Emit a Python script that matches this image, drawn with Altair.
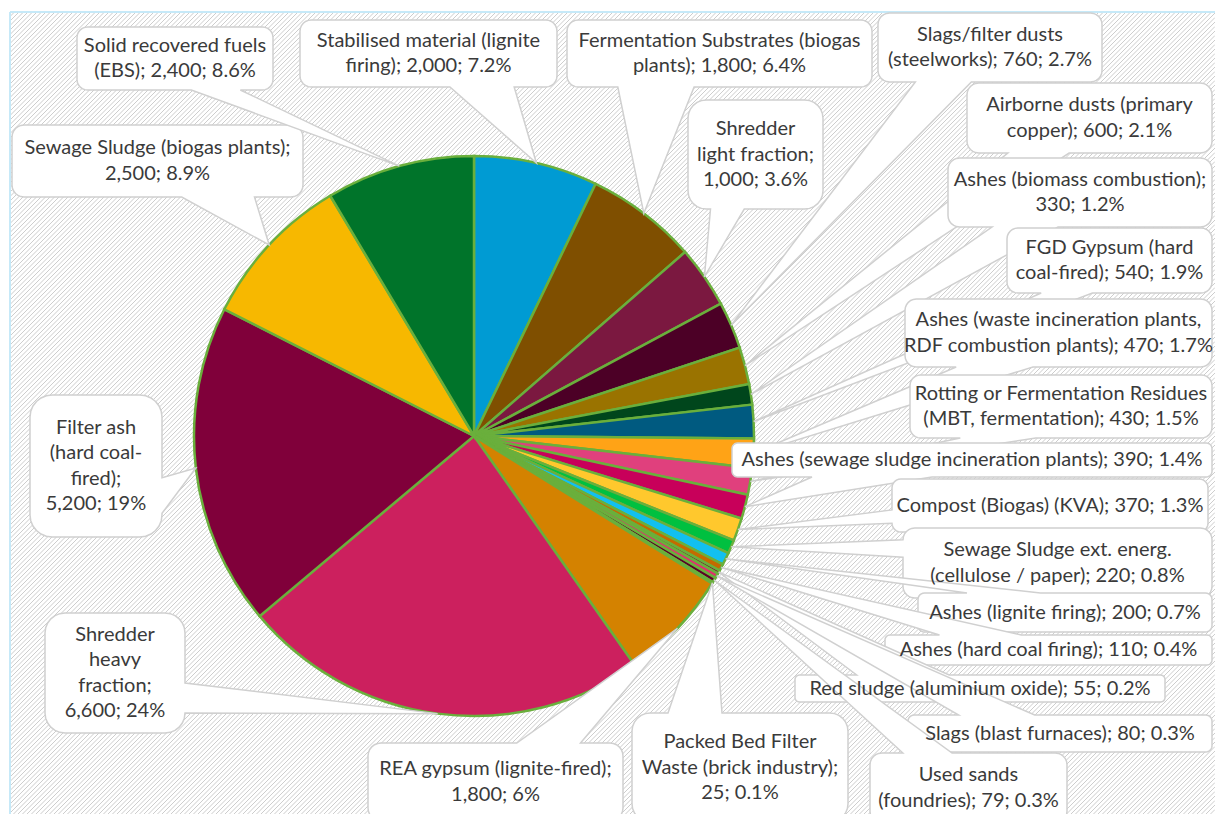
import math
import altair as alt
import pandas as pd

# ---------------- data ----------------
categories = [
    "Stabilised material (lignite firing)",
    "Fermentation Substrates (biogas plants)",
    "Shredder light fraction",
    "Slags/filter dusts (steelworks)",
    "Airborne dusts (primary copper)",
    "Ashes (biomass combustion)",
    "FGD Gypsum (hard coal-fired)",
    "Ashes (waste incineration plants, RDF combustion plants)",
    "Rotting or Fermentation Residues (MBT, fermentation)",
    "Ashes (sewage sludge incineration plants)",
    "Compost (Biogas) (KVA)",
    "Sewage Sludge ext. energ. (cellulose / paper)",
    "Ashes (lignite firing)",
    "Ashes (hard coal firing)",
    "Red sludge (aluminium oxide)",
    "Slags (blast furnaces)",
    "Used sands (foundries)",
    "Packed Bed Filter Waste (brick industry)",
    "REA gypsum (lignite-fired)",
    "Shredder heavy fraction",
    "Filter ash (hard coal-fired)",
    "Sewage Sludge (biogas plants)",
    "Solid recovered fuels (EBS)",
]
values = [2000, 1800, 1000, 760, 600, 330, 540, 470, 430, 390, 370, 220, 200,
          110, 55, 80, 79, 25, 1800, 6600, 5200, 2500, 2400]
shares = ["7.2%", "6.4%", "3.6%", "2.7%", "2.1%", "1.2%", "1.9%", "1.7%", "1.5%",
          "1.4%", "1.3%", "0.8%", "0.7%", "0.4%", "0.2%", "0.3%", "0.3%", "0.1%",
          "6%", "24%", "19%", "8.9%", "8.6%"]
colors = ["#009BD3", "#7F4F00", "#7B1840", "#4C0026", "#9A7300", "#00461C",
          "#005A80", "#FFA316", "#E0407D", "#C8005A", "#FFC82D", "#00C040",
          "#12C0F0", "#C46A00", "#7A0036", "#E03070", "#5A0028", "#A05000",
          "#D48200", "#CC205E", "#80003A", "#F7B800", "#00742A"]
label_text = [
    "Stabilised material (lignite\nfiring); 2,000; 7.2%",
    "Fermentation Substrates (biogas\nplants); 1,800; 6.4%",
    "Shredder\nlight fraction;\n1,000; 3.6%",
    "Slags/filter dusts\n(steelworks); 760; 2.7%",
    "Airborne dusts (primary\ncopper); 600; 2.1%",
    "Ashes (biomass combustion);\n330; 1.2%",
    "FGD Gypsum (hard\ncoal-fired); 540; 1.9%",
    "Ashes (waste incineration plants,\nRDF combustion plants); 470; 1.7%",
    "Rotting or Fermentation Residues\n(MBT, fermentation); 430; 1.5%",
    "Ashes (sewage sludge incineration plants); 390; 1.4%",
    "Compost (Biogas) (KVA); 370; 1.3%",
    "Sewage Sludge ext. energ.\n(cellulose / paper); 220; 0.8%",
    "Ashes (lignite firing); 200; 0.7%",
    "Ashes (hard coal firing); 110; 0.4%",
    "Red sludge (aluminium oxide); 55; 0.2%",
    "Slags (blast furnaces); 80; 0.3%",
    "Used sands\n(foundries); 79; 0.3%",
    "Packed Bed Filter\nWaste (brick industry);\n25; 0.1%",
    "REA gypsum (lignite-fired);\n1,800; 6%",
    "Shredder\nheavy\nfraction;\n6,600; 24%",
    "Filter ash\n(hard coal-\nfired);\n5,200; 19%",
    "Sewage Sludge (biogas plants);\n2,500; 8.9%",
    "Solid recovered fuels\n(EBS); 2,400; 8.6%",
]

# ---------------- layout ----------------
W, H = 1215, 814
CX, CY, R = 474, 436, 280
LINE_H = 25.5
# label boxes: left, top, right, bottom (pixels)
label_boxes = [
    (300, 20, 557, 87), (567, 20, 872, 87), (688, 100, 823, 209),
    (878, 13, 1102, 82), (967, 83, 1212, 153), (948, 158, 1212, 227),
    (1007, 228, 1212, 293), (905, 299, 1212, 367), (910, 375, 1212, 438),
    (732, 443, 1212, 477), (892, 479, 1208, 532), (903, 528, 1212, 598),
    (918, 593, 1212, 632), (885, 635, 1212, 665), (795, 675, 1165, 702),
    (908, 715, 1212, 752), (870, 753, 1067, 823), (632, 713, 848, 822),
    (368, 743, 623, 821), (45, 613, 185, 733), (30, 395, 162, 537),
    (12, 125, 303, 197), (77, 27, 273, 90),
]

total = float(sum(values))
tips = []
cum = 0.0
for v in values:
    mid = (cum + v / 2.0) / total * 2 * math.pi
    tips.append((CX + R * math.sin(mid), CY - R * math.cos(mid)))
    cum += v


def callout(l, t, r, b, tx, ty):
    w, h = r - l, b - t
    hc, vc = (l + r) / 2, (t + b) / 2
    dxp, dyp = tx - hc, ty - vc
    horiz = abs(dxp * h / w) > abs(dyp)
    rad = min(w, h) * 0.16667
    x1 = l + w * (7 if dxp > 0 else 2) / 12
    x2 = l + w * (10 if dxp > 0 else 5) / 12
    y1 = t + h * (7 if dyp > 0 else 2) / 12
    y2 = t + h * (10 if dyp > 0 else 5) / 12

    def arc(ax, ay, a0, a1):
        out = []
        for k in range(1, 7):
            a = math.radians(a0 + (a1 - a0) * k / 6)
            out.append((ax + rad * math.cos(a), ay + rad * math.sin(a)))
        return out

    pts = [(l + rad, t)]
    if not horiz and dyp < 0:
        pts += [(x1, t), (tx, ty), (x2, t)]
    pts.append((r - rad, t))
    pts += arc(r - rad, t + rad, -90, 0)
    if horiz and dxp > 0:
        pts += [(r, y1), (tx, ty), (r, y2)]
    pts.append((r, b - rad))
    pts += arc(r - rad, b - rad, 0, 90)
    if not horiz and dyp > 0:
        pts += [(x2, b), (tx, ty), (x1, b)]
    pts.append((l + rad, b))
    pts += arc(l + rad, b - rad, 90, 180)
    if horiz and dxp < 0:
        pts += [(l, y2), (tx, ty), (l, y1)]
    pts.append((l, t + rad))
    pts += arc(l + rad, t + rad, 180, 270)[:-1]
    ring = [[round(p[0], 2), round(p[1], 2)] for p in pts]
    ring.append(ring[0])
    return ring


features = []
for i, (box, tip) in enumerate(zip(label_boxes, tips)):
    features.append({
        "type": "Feature",
        "properties": {"idx": i},
        "geometry": {"type": "Polygon", "coordinates": [callout(*box, *tip)]},
    })

# hatch background (decoration)
hx0, hy0 = 10, 12
step = 4.5
hatch = []
c = hx0 + hy0 + step
while c < W + H:
    xa = max(hx0, c - H)
    xb = min(W, c - hy0)
    if xb > xa:
        hatch.append({"x": xa, "y": c - xa, "x2": xb, "y2": c - xb})
    c += step
hatch_df = pd.DataFrame(hatch)

border_df = pd.DataFrame([
    {"x": hx0, "y": hy0, "x2": hx0, "y2": H},
    {"x": hx0, "y": hy0, "x2": W, "y2": hy0},
])

pie_df = pd.DataFrame({"category": categories, "value": values,
                       "idx": list(range(len(values)))})
# first-line position so that the text block is centred in its box
text_df = pd.DataFrame({
    "tx": [(b[0] + b[2]) / 2 for b in label_boxes],
    "ty": [(b[1] + b[3]) / 2 - (s.count("\n")) * LINE_H / 2
           for b, s in zip(label_boxes, label_text)],
    "label": label_text,
})

xs = alt.Scale(domain=[0, W], nice=False, zero=False)
ys = alt.Scale(domain=[0, H], nice=False, zero=False, reverse=True)

hatch_layer = alt.Chart(hatch_df).mark_rule(color="#CDCDCD", strokeWidth=1).encode(
    x=alt.X("x:Q", scale=xs, axis=None), y=alt.Y("y:Q", scale=ys, axis=None),
    x2="x2:Q", y2="y2:Q")

border_layer = alt.Chart(border_df).mark_rule(color="#C6E9F8", strokeWidth=2).encode(
    x=alt.X("x:Q", scale=xs, axis=None), y=alt.Y("y:Q", scale=ys, axis=None),
    x2="x2:Q", y2="y2:Q")

pie_layer = alt.Chart(pie_df).mark_arc(
    outerRadius=R, stroke="#6AAF3C", strokeWidth=2.5
).encode(
    theta=alt.Theta("value:Q", stack=True),
    order=alt.Order("idx:Q"),
    color=alt.Color("category:N", scale=alt.Scale(domain=categories, range=colors),
                    legend=None),
    x=alt.value(CX), y=alt.value(CY),
)

callout_layer = alt.Chart(alt.Data(values=features)).mark_geoshape(
    fill="white", stroke="#D0D0D0", strokeWidth=1.5
).project(type="identity", scale=1, translate=[0, 0])

text_layer = alt.Chart(text_df).mark_text(
    font="Lato", fontSize=20, lineHeight=LINE_H, color="#3A3A3A",
    align="center", baseline="middle", lineBreak="\n"
).encode(
    x=alt.X("tx:Q", scale=xs, axis=None), y=alt.Y("ty:Q", scale=ys, axis=None),
    text="label:N")

chart = alt.layer(hatch_layer, border_layer, pie_layer, callout_layer, text_layer).properties(
    width=W, height=H, padding=0, autosize="none", background="white"
).configure_view(strokeWidth=0)

chart.save("out.html", embed_options={"renderer": "svg", "actions": False})
